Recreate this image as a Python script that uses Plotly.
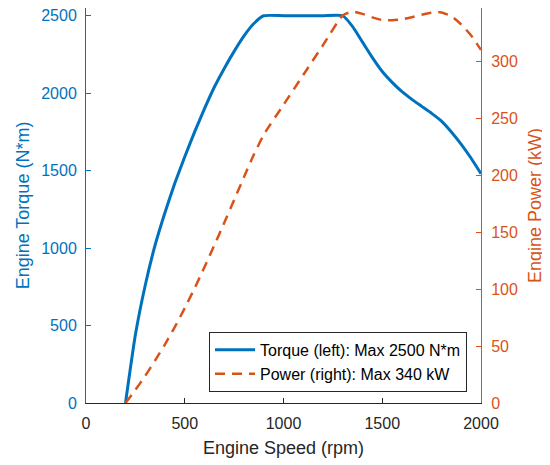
import plotly.graph_objects as go

speed_rpm = [200, 250, 300, 350, 400, 450, 500, 550, 600, 650, 700, 750, 800, 850, 900,
             1000, 1100, 1200, 1300, 1350, 1400, 1450, 1500, 1550, 1600, 1650, 1700,
             1750, 1800, 1850, 1900, 1950, 2000]
torque_nm = [0, 440, 760, 1020, 1230, 1420, 1590, 1750, 1900, 2040, 2160, 2270, 2370, 2450, 2500,
             2500, 2500, 2500, 2500, 2430, 2330, 2230, 2140, 2070, 2010, 1960, 1915,
             1870, 1820, 1750, 1670, 1580, 1480]
power_kw = [0, 11.5, 23.9, 37.4, 51.5, 66.9, 83.3, 100.8, 119.4, 138.6, 158.3, 178.3, 198.4, 218.1, 235.6,
            261.8, 288.0, 314.2, 340.3, 343.6, 341.6, 338.6, 336.2, 336.0, 336.8, 338.7, 340.9,
            342.6, 342.9, 339.6, 332.3, 322.7, 310.0]

x_ticks = [0, 500, 1000, 1500, 2000]
left_ticks = [0, 500, 1000, 1500, 2000, 2500]
right_ticks = [0, 50, 100, 150, 200, 250, 300]

BLUE = "#0072BD"
ORANGE = "#D95319"
GRAY = "#262626"
FONT = "Liberation Sans, Arial, sans-serif"

fig = go.Figure()
fig.add_trace(go.Scatter(x=speed_rpm, y=torque_nm, mode="lines",
                         line=dict(color=BLUE, width=3, shape="spline", smoothing=0.5),
                         name="Torque (left): Max 2500 N*m", yaxis="y"))
fig.add_trace(go.Scatter(x=speed_rpm, y=power_kw, mode="lines",
                         line=dict(color=ORANGE, width=2.5, dash="10px,7px", shape="spline", smoothing=0.5),
                         name="Power (right): Max 340 kW", yaxis="y2"))

fig.update_layout(
    width=542, height=457,
    margin=dict(l=78, r=69, t=0, b=62, autoexpand=False),
    paper_bgcolor="white", plot_bgcolor="white",
    font=dict(family=FONT, size=16, color=GRAY),
    showlegend=True,
    legend=dict(x=0.9646, y=0.028, xanchor="right", yanchor="bottom",
                bgcolor="white", bordercolor=GRAY, borderwidth=1,
                font=dict(size=16, color="#000000"),
                tracegroupgap=0, itemwidth=40),
    xaxis=dict(range=[0, 2000], tickvals=x_ticks, ticks="inside", ticklen=5,
               tickcolor=GRAY, showline=True, linecolor=GRAY, linewidth=1,
               showgrid=False, zeroline=False, tickfont=dict(size=16, color=GRAY),
               automargin=False, ticklabeloverflow="allow", ticklabelstandoff=6,
               title=dict(text="Engine Speed (rpm)", font=dict(size=18, color=GRAY), standoff=10)),
    yaxis=dict(range=[0, 2550], tickvals=left_ticks, ticks="inside", ticklen=5,
               tickcolor=BLUE, showline=True, linecolor=BLUE, linewidth=1,
               showgrid=False, zeroline=False, tickfont=dict(size=16, color=BLUE),
               ticklabelstandoff=5, automargin=False, ticklabeloverflow="allow",
               title=dict(text="Engine Torque (N*m)", font=dict(size=18, color=BLUE), standoff=6)),
    yaxis2=dict(range=[0, 346.8], tickvals=right_ticks, ticks="inside", ticklen=5,
                overlaying="y", side="right", automargin=False, ticklabeloverflow="allow",
                tickcolor=ORANGE, showline=True, linecolor=ORANGE, linewidth=1,
                showgrid=False, zeroline=False, tickfont=dict(size=16, color=ORANGE),
                ticklabelstandoff=6,
                title=dict(text="Engine Power (kW)", font=dict(size=18, color=ORANGE), standoff=11)),
)

fig.write_html("out.html")
